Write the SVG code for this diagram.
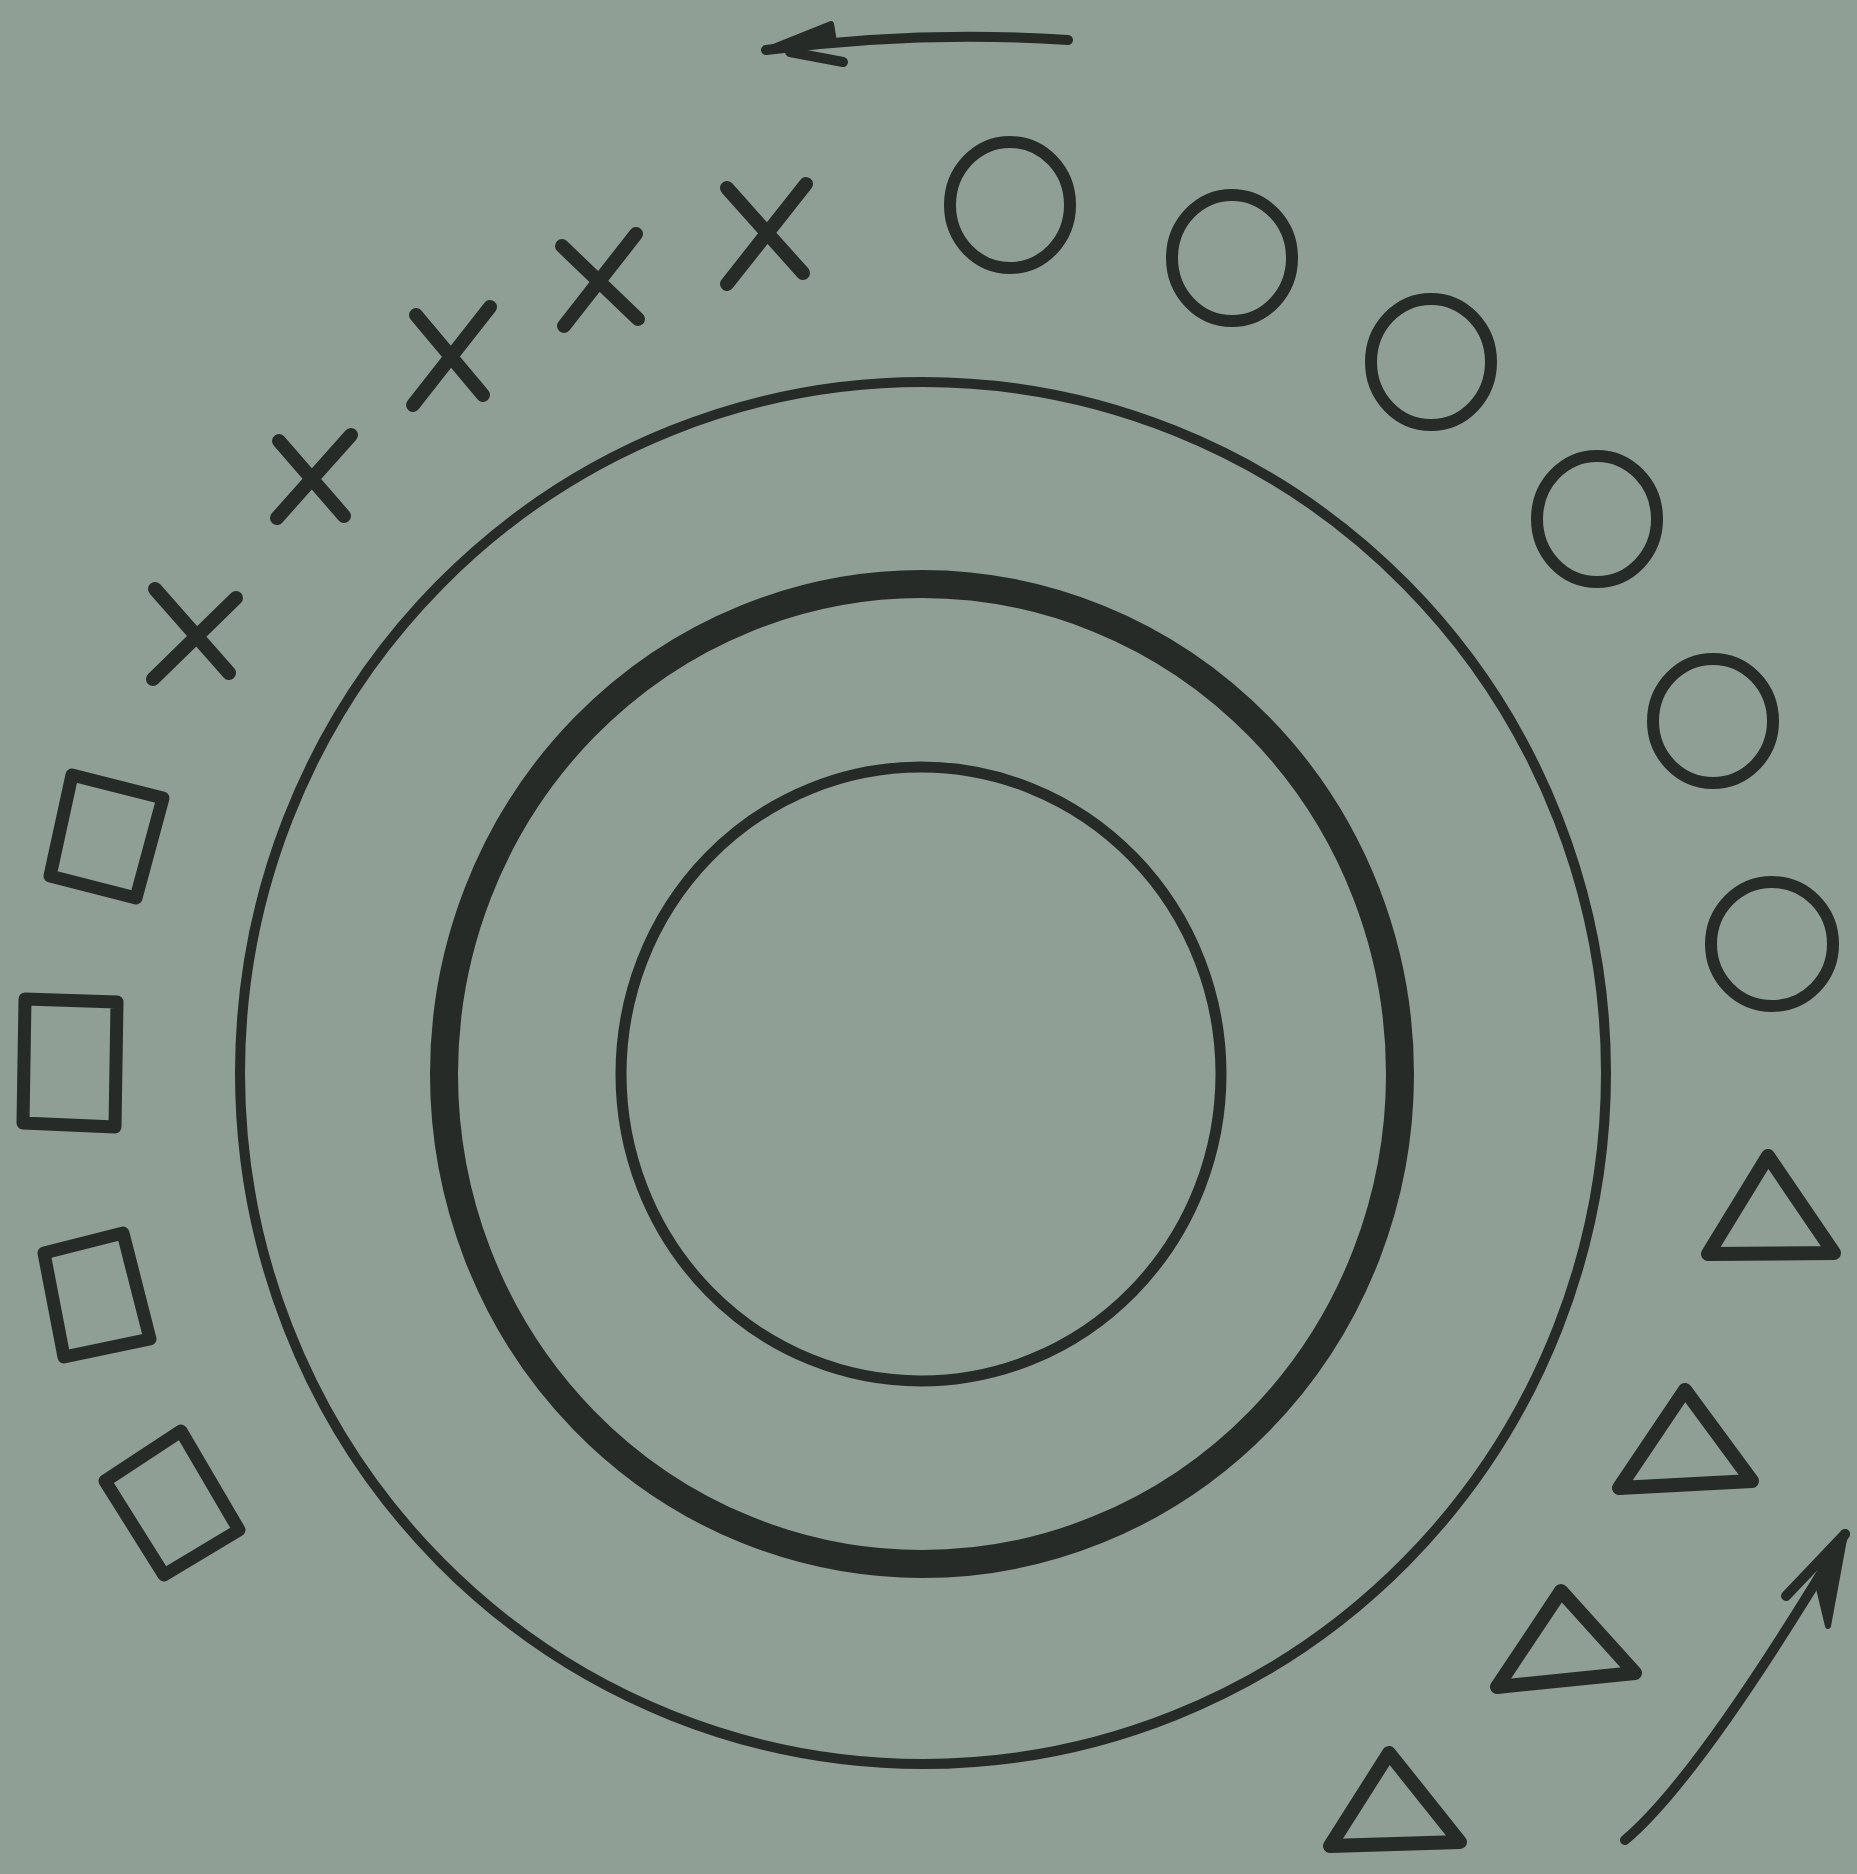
<svg xmlns="http://www.w3.org/2000/svg" width="1857" height="1874" viewBox="0 0 1857 1874">
<style>
.s{fill:none;stroke:#262b28;stroke-linecap:round;stroke-linejoin:round}
.c{stroke-width:12}
.x{stroke-width:14}
.q{stroke-width:13}
.t{stroke-width:14}
.a{stroke-width:10}
.h{fill:#262b28;stroke:#262b28;stroke-width:6;stroke-linejoin:round}
</style>
<rect width="1857" height="1874" fill="#909f95"/>
<g id="rings">
<ellipse class="s" cx="923" cy="1073" rx="683" ry="691" stroke-width="10"/>
<ellipse class="s" cx="922" cy="1074" rx="478" ry="490" stroke-width="28"/>
<ellipse class="s" cx="921" cy="1074" rx="300" ry="307" stroke-width="11"/>
</g>
<g id="circles">
<ellipse class="s c" cx="1010" cy="205" rx="60" ry="63"/>
<ellipse class="s c" cx="1232" cy="258" rx="60" ry="63"/>
<ellipse class="s c" cx="1431" cy="362" rx="60" ry="63"/>
<ellipse class="s c" cx="1597" cy="519" rx="60" ry="63"/>
<ellipse class="s c" cx="1713" cy="721" rx="60" ry="62"/>
<ellipse class="s c" cx="1772" cy="944" rx="61" ry="62"/>
</g>
<g id="crosses">
<path class="s x" d="M727 188 L803 273 M806 184 L727 284"/>
<path class="s x" d="M562 246 L638 319 M636 234 L564 326"/>
<path class="s x" d="M416 315 L483 395 M490 307 L413 405"/>
<path class="s x" d="M279 441 L344 516 M351 435 L277 518"/>
<path class="s x" d="M155 589 L229 673 M236 598 L153 679"/>
</g>
<g id="squares">
<polygon class="s q" points="72,775 163,798 136,898 50,876"/>
<polygon class="s q" points="25,999 117,1002 115,1127 23,1123"/>
<polygon class="s q" points="44,1253 123,1233 150,1339 64,1357"/>
<polygon class="s q" points="105,1481 181,1431 239,1530 164,1575"/>
</g>
<g id="triangles">
<polygon class="s t" points="1768,1156 1708,1254 1834,1253"/>
<polygon class="s t" points="1685,1390 1619,1488 1752,1481"/>
<polygon class="s t" points="1561,1591 1497,1687 1635,1673"/>
<polygon class="s t" points="1389,1753 1330,1846 1460,1842"/>
</g>
<g id="connectors">
<path class="s a" d="M1068 40 Q920 30 766 50"/>
<polygon class="h" points="766,50 831,24 834,42"/>
<path class="s a" d="M790 52 L843 62"/>
<path class="s a" d="M1625 1840 Q1699 1778 1845 1534"/>
<path class="s a" d="M1786 1596 L1845 1534"/>
<polygon class="h" points="1845,1534 1817,1580 1828,1626"/>
</g>
</svg>
